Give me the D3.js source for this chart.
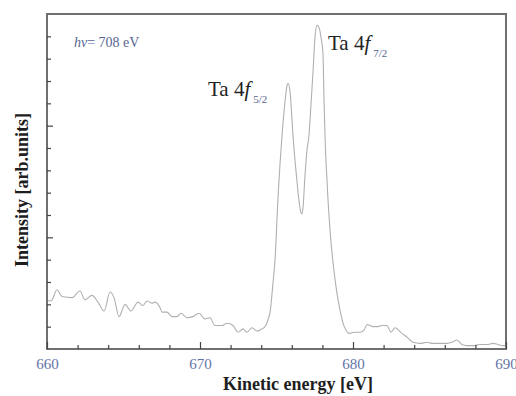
<!DOCTYPE html>
<html>
<head>
<meta charset="utf-8">
<script src="https://cdn.jsdelivr.net/npm/d3@7.9.0/dist/d3.min.js"></script>
<style>
  body { margin: 0; background: #fff; }
  svg { display: block; }
</style>
</head>
<body>
<svg width="516" height="396"></svg>
<script>
// Ta 4f photoemission spectrum, hv = 708 eV
const energy = [
  660.00, 660.20, 660.33, 660.65, 660.98, 661.63, 662.16, 662.48, 662.94, 663.33,
  663.73, 664.12, 664.38, 664.71, 665.10, 665.49, 665.95, 666.27, 666.54, 666.86,
  667.06, 667.39, 667.52, 667.84, 668.17, 668.50, 668.76, 669.15, 669.54, 669.93,
  670.33, 670.65, 670.98, 671.44, 671.76, 672.16, 672.48, 672.81, 673.07, 673.40,
  673.73, 674.05, 674.25, 674.44, 674.58, 674.77, 674.90, 675.10, 675.36, 675.56,
  675.69, 675.75, 675.88, 676.01, 676.08, 676.27, 676.47, 676.60, 676.67, 676.73,
  676.86, 676.99, 677.12, 677.25, 677.39, 677.52, 677.65, 677.78, 677.91, 678.04,
  678.10, 678.17, 678.30, 678.50, 678.69, 678.95, 679.15, 679.35, 679.54, 679.74,
  680.13, 680.46, 680.72, 680.92, 681.31, 681.57, 681.90, 682.22, 682.48, 682.75,
  683.20, 683.59, 683.92, 684.38, 684.84, 685.23, 685.69, 686.14, 686.47, 686.80,
  687.12, 687.45, 687.84, 688.30, 688.76, 689.15, 689.48, 689.80, 690.00
];
const intensity = [
  0.44, 0.43, 0.44, 0.53, 0.47, 0.46, 0.52, 0.44, 0.48, 0.42,
  0.34, 0.51, 0.46, 0.29, 0.40, 0.34, 0.42, 0.39, 0.43, 0.41,
  0.42, 0.37, 0.33, 0.33, 0.29, 0.29, 0.32, 0.28, 0.29, 0.32,
  0.27, 0.28, 0.21, 0.21, 0.23, 0.21, 0.15, 0.18, 0.15, 0.19,
  0.16, 0.18, 0.20, 0.26, 0.33, 0.59, 0.79, 1.36, 1.91, 2.22,
  2.36, 2.38, 2.31, 2.06, 1.91, 1.60, 1.33, 1.22, 1.21, 1.26,
  1.55, 1.78, 1.91, 2.18, 2.49, 2.80, 2.90, 2.88, 2.79, 2.64,
  2.26, 1.91, 1.51, 1.06, 0.78, 0.50, 0.35, 0.23, 0.17, 0.14,
  0.15, 0.15, 0.17, 0.22, 0.20, 0.20, 0.21, 0.21, 0.15, 0.19,
  0.14, 0.10, 0.06, 0.05, 0.06, 0.05, 0.05, 0.05, 0.06, 0.08,
  0.04, 0.03, 0.03, 0.04, 0.04, 0.05, 0.04, 0.03, 0.03
];
const xMajor = [660, 670, 680, 690];
const xMinor = [662, 664, 666, 668, 672, 674, 676, 678, 682, 684, 686, 688];
const yMajor = [1, 2];
const yMinor = [0.2, 0.4, 0.6, 0.8, 1.2, 1.4, 1.6, 1.8, 2.2, 2.4, 2.6, 2.8];

const svg = d3.select('svg');
const plot = { left: 47, right: 506, top: 14, bottom: 349 };
const serif = '"Liberation Serif", "Times New Roman", serif';

const x = d3.scaleLinear().domain([660, 690]).range([plot.left, plot.right]);
const y = d3.scaleLinear().domain([0, 3]).range([plot.bottom, plot.top]);

const pts = energy.map((e, i) => [e, intensity[i]]);

// spectrum trace
svg.append('path')
  .datum(pts)
  .attr('fill', 'none')
  .attr('stroke', '#b0b0b0')
  .attr('stroke-width', 1.1)
  .attr('stroke-linejoin', 'round')
  .attr('d', d3.line().curve(d3.curveMonotoneX).x(d => x(d[0])).y(d => y(d[1])));

// frame
svg.append('rect')
  .attr('x', plot.left).attr('y', plot.top)
  .attr('width', plot.right - plot.left).attr('height', plot.bottom - plot.top)
  .attr('fill', 'none')
  .attr('stroke', '#707070')
  .attr('stroke-width', 2);

// x axis: inward ticks
const gx = svg.append('g').attr('transform', `translate(0,${plot.bottom})`);
gx.call(d3.axisBottom(x).tickValues(xMajor).tickSize(-7).tickPadding(9).tickFormat(d3.format('d')));
gx.append('g').call(d3.axisBottom(x).tickValues(xMinor).tickSize(-4).tickFormat(''));
gx.selectAll('.domain').remove();
gx.selectAll('line').attr('stroke', '#444').attr('stroke-width', 1.2);
gx.selectAll('text')
  .attr('fill', '#6474a8')
  .style('font-family', serif)
  .style('font-size', '15px');

// y axis: inward ticks, no labels
const gy = svg.append('g').attr('transform', `translate(${plot.left},0)`);
gy.call(d3.axisLeft(y).tickValues(yMajor).tickSize(-6).tickFormat(''));
gy.append('g').call(d3.axisLeft(y).tickValues(yMinor).tickSize(-4).tickFormat(''));
gy.selectAll('.domain').remove();
gy.selectAll('line').attr('stroke', '#444').attr('stroke-width', 1.2);

// axis titles
svg.append('text')
  .attr('x', 298).attr('y', 390)
  .attr('text-anchor', 'middle')
  .style('font-family', serif)
  .attr('font-weight', 'bold')
  .attr('font-size', 18)
  .attr('fill', '#1e1e1e')
  .text('Kinetic energy [eV]');

svg.append('text')
  .attr('transform', 'translate(28,190) rotate(-90)')
  .attr('text-anchor', 'middle')
  .style('font-family', serif)
  .attr('font-weight', 'bold')
  .attr('font-size', 18)
  .attr('fill', '#1e1e1e')
  .text('Intensity [arb.units]');

// photon energy note
const hv = svg.append('text')
  .attr('x', 74).attr('y', 47)
  .style('font-family', serif)
  .attr('font-size', 14)
  .attr('fill', '#56658f');
hv.append('tspan').attr('font-style', 'italic').text('hv');
hv.append('tspan').text('= 708 eV');

// peak labels
function peakLabel(px, py, sub) {
  const t = svg.append('text')
    .attr('x', px).attr('y', py)
    .style('font-family', serif)
    .attr('font-size', 21)
    .attr('fill', '#222');
  t.append('tspan').text('Ta 4');
  t.append('tspan').attr('font-style', 'italic').text('f');
  t.append('tspan')
    .attr('dx', 3).attr('dy', 7)
    .attr('font-size', 11)
    .attr('fill', '#56658f')
    .text(sub);
}
peakLabel(208, 96, '5/2');
peakLabel(328, 50, '7/2');
</script>
</body>
</html>
